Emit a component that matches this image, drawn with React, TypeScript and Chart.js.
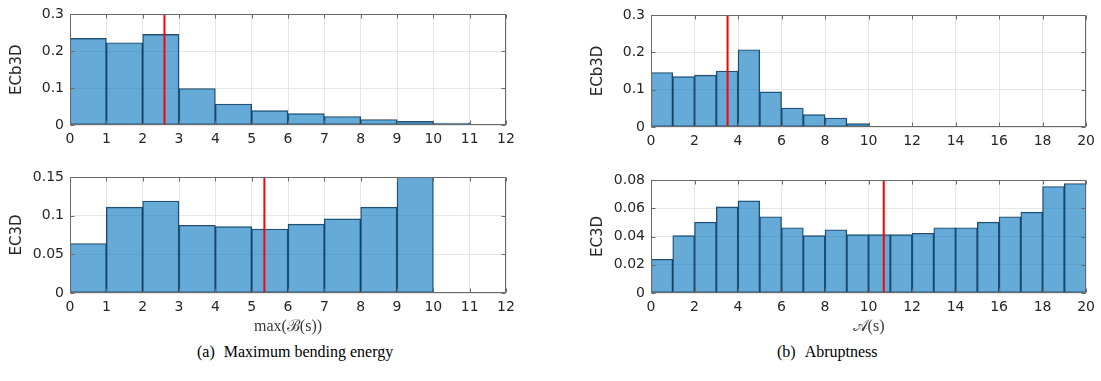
import React, { useEffect, useRef } from "react";
import { Chart, registerables } from "chart.js";
Chart.register(...registerables);

// ---------- data ----------
const bendingBinStarts = [0, 1, 2, 3, 4, 5, 6, 7, 8, 9, 10, 11];
const bendingECb3D = [0.235, 0.223, 0.246, 0.099, 0.057, 0.039, 0.031, 0.023, 0.015, 0.01, 0.005, 0.002];
const bendingEC3D = [0.064, 0.111, 0.119, 0.0876, 0.0858, 0.0828, 0.089, 0.0958, 0.111, 0.15, 0, 0];
const bendingXTicks = [0, 1, 2, 3, 4, 5, 6, 7, 8, 9, 10, 11, 12];

const abruptBinStarts = [0, 1, 2, 3, 4, 5, 6, 7, 8, 9, 10, 11, 12, 13, 14, 15, 16, 17, 18, 19];
const abruptECb3D = [0.146, 0.135, 0.139, 0.15, 0.207, 0.094, 0.051, 0.033, 0.024, 0.009, 0.0015, 0, 0, 0, 0, 0, 0, 0, 0, 0];
const abruptEC3D = [0.0239, 0.0406, 0.0502, 0.061, 0.0652, 0.054, 0.0462, 0.0406, 0.0448, 0.0413, 0.0413, 0.0413, 0.0423, 0.0462, 0.0462, 0.0502, 0.054, 0.0573, 0.0754, 0.0775];
const abruptXTicks = [0, 2, 4, 6, 8, 10, 12, 14, 16, 18, 20];

const ecb3dYTicks = [0, 0.1, 0.2, 0.3];
const bendingEC3DYTicks = [0, 0.05, 0.1, 0.15];
const abruptEC3DYTicks = [0, 0.02, 0.04, 0.06, 0.08];

const bendingECb3DMarker = 2.6;
const bendingEC3DMarker = 5.35;
const abruptECb3DMarker = 3.52;
const abruptEC3DMarker = 10.7;

const binWidth = 1;

// ---------- styling ----------
const TEXT = "#262626";
const BOX = "#6a6a6a";
const GRID = "#e6e6e6";

const matlabAxes = {
  id: "matlabAxes",
  afterDraw(chart: any) {
    const { ctx, chartArea: a, scales } = chart;
    const x = scales.x;
    const y = scales.y;
    ctx.save();
    ctx.strokeStyle = BOX;
    ctx.lineWidth = 1;
    const L = Math.round(a.left) + 0.5;
    const R = Math.round(a.right) - 0.5;
    const T = Math.round(a.top) + 0.5;
    const B = Math.round(a.bottom) - 0.5;
    ctx.beginPath();
    ctx.rect(L, T, R - L, B - T);
    ctx.stroke();
    const tl = 4;
    ctx.beginPath();
    x.ticks.forEach((t: any) => {
      const px = Math.round(x.getPixelForValue(t.value)) + 0.5;
      ctx.moveTo(px, B);
      ctx.lineTo(px, B - tl);
      ctx.moveTo(px, T);
      ctx.lineTo(px, T + tl);
    });
    y.ticks.forEach((t: any) => {
      const py = Math.round(y.getPixelForValue(t.value)) + 0.5;
      ctx.moveTo(L, py);
      ctx.lineTo(L + tl, py);
      ctx.moveTo(R, py);
      ctx.lineTo(R - tl, py);
    });
    ctx.stroke();
    ctx.restore();
  },
};

type PanelProps = {
  left: number;
  top: number;
  width: number;
  height: number;
  padTop: number;
  padRight: number;
  xAxisHeight: number;
  binStarts: number[];
  values: number[];
  marker: number;
  xTicks: number[];
  yTicks: number[];
  yTitle: string;
  xTitle?: string;
};

function Panel(p: PanelProps) {
  const ref = useRef<HTMLCanvasElement | null>(null);
  useEffect(() => {
    if (!ref.current) return;
    const yMax = p.yTicks[p.yTicks.length - 1];
    const xMin = p.xTicks[0];
    const xMax = p.xTicks[p.xTicks.length - 1];
    const chart = new Chart(ref.current, {
      type: "bar",
      data: {
        datasets: [
          {
            type: "line",
            data: [
              { x: p.marker, y: 0 },
              { x: p.marker, y: yMax },
            ],
            borderColor: "#ff0000",
            borderWidth: 2,
            pointRadius: 0,
            order: 0,
          } as any,
          {
            type: "bar",
            data: p.values.map((v, i) => ({ x: p.binStarts[i] + binWidth / 2, y: v })),
            backgroundColor: "rgba(0,114,189,0.6)",
            borderColor: "rgba(25,45,65,0.9)",
            borderWidth: 0.75,
            borderSkipped: false,
            barPercentage: 1,
            categoryPercentage: 1,
            order: 1,
          } as any,
        ],
      },
      options: {
        animation: false,
        responsive: false,
        events: [],
        layout: { padding: { left: 0, top: p.padTop, right: p.padRight, bottom: 0 } },
        plugins: { legend: { display: false }, tooltip: { enabled: false }, title: { display: false } },
        scales: {
          x: {
            type: "linear",
            min: xMin,
            max: xMax,
            offset: false,
            afterBuildTicks: (s: any) => {
              s.ticks = p.xTicks.map((v) => ({ value: v }));
            },
            afterFit: (s: any) => {
              s.height = p.xAxisHeight;
            },
            grid: { color: GRID, lineWidth: 1, drawTicks: false, offset: false },
            border: { display: false },
            ticks: {
              padding: 6,
              color: TEXT,
              font: { family: "DejaVu Sans", size: 14 },
              maxRotation: 0,
              autoSkip: false,
              callback: (v: any) => String(v),
            },
            title: p.xTitle
              ? {
                  display: true,
                  text: p.xTitle,
                  color: "#3a3a3a",
                  font: { family: "Liberation Serif", size: 16 },
                  padding: { top: 0, bottom: 4 },
                }
              : { display: false },
          },
          y: {
            type: "linear",
            min: 0,
            max: yMax,
            afterBuildTicks: (s: any) => {
              s.ticks = p.yTicks.map((v) => ({ value: v }));
            },
            afterFit: (s: any) => {
              s.width = 70;
            },
            grid: { color: GRID, lineWidth: 1, drawTicks: false },
            border: { display: false },
            ticks: {
              padding: 6,
              color: TEXT,
              font: { family: "DejaVu Sans", size: 14 },
              callback: (v: any) => String(v),
            },
            title: {
              display: true,
              text: p.yTitle,
              color: TEXT,
              font: { family: "DejaVu Sans", size: 15 },
              padding: { top: 8, bottom: 0 },
            },
          },
        },
      } as any,
      plugins: [matlabAxes],
    });
    return () => chart.destroy();
  }, []);
  return (
    <canvas
      ref={ref}
      width={p.width}
      height={p.height}
      style={{ position: "absolute", left: p.left, top: p.top, width: p.width, height: p.height }}
    />
  );
}

const captionStyle: React.CSSProperties = {
  position: "absolute",
  top: 341,
  fontFamily: "'Liberation Serif', serif",
  fontSize: 16,
  lineHeight: "22px",
  color: "#000",
  whiteSpace: "pre",
};

export default function App() {
  return (
    <div style={{ position: "absolute", left: 0, top: 0, width: 1101, height: 381, background: "#fff", overflow: "hidden" }}>
      <Panel left={0} top={0} width={540} height={150} padTop={11} padRight={34} xAxisHeight={25}
        binStarts={bendingBinStarts} values={bendingECb3D} marker={bendingECb3DMarker}
        xTicks={bendingXTicks} yTicks={ecb3dYTicks} yTitle="ECb3D" />
      <Panel left={0} top={160} width={540} height={180} padTop={17} padRight={34} xAxisHeight={47}
        binStarts={bendingBinStarts} values={bendingEC3D} marker={bendingEC3DMarker}
        xTicks={bendingXTicks} yTicks={bendingEC3DYTicks} yTitle="EC3D" xTitle="max(ℬ(s))" />
      <Panel left={581} top={0} width={520} height={150} padTop={15} padRight={14} xAxisHeight={23}
        binStarts={abruptBinStarts} values={abruptECb3D} marker={abruptECb3DMarker}
        xTicks={abruptXTicks} yTicks={ecb3dYTicks} yTitle="ECb3D" />
      <Panel left={581} top={160} width={520} height={180} padTop={20} padRight={14} xAxisHeight={47}
        binStarts={abruptBinStarts} values={abruptEC3D} marker={abruptEC3DMarker}
        xTicks={abruptXTicks} yTicks={abruptEC3DYTicks} yTitle="EC3D" xTitle="𝒜(s)" />
      <div style={{ ...captionStyle, left: 197 }}>
        <span>(a)</span>
        <span style={{ marginLeft: 9 }}>Maximum bending energy</span>
      </div>
      <div style={{ ...captionStyle, left: 777 }}>
        <span>(b)</span>
        <span style={{ marginLeft: 9 }}>Abruptness</span>
      </div>
    </div>
  );
}
